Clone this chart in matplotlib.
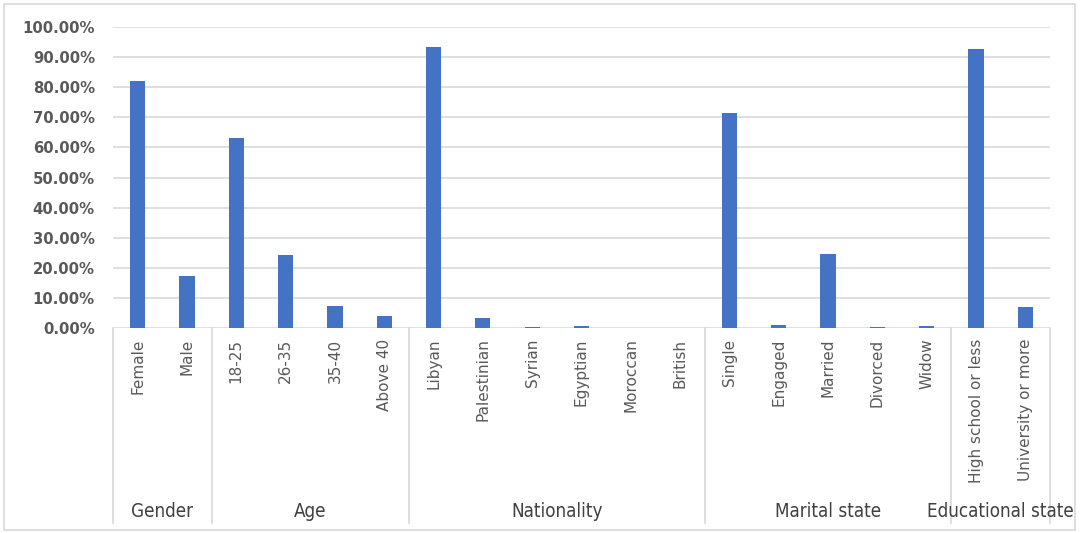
import numpy as np
import matplotlib.pyplot as plt
from matplotlib.patches import Rectangle
from matplotlib.ticker import PercentFormatter
import matplotlib.transforms as mtransforms

# categories and values (share of respondents)
groups = ["Gender", "Age", "Nationality", "Marital state", "Educational state"]
group_items = [
    ["Female", "Male"],
    ["18-25", "26-35", "35-40", "Above 40"],
    ["Libyan", "Palestinian", "Syrian", "Egyptian", "Moroccan", "British"],
    ["Single", "Engaged", "Married", "Divorced", "Widow"],
    ["High school or less", "University or more"],
]
gender_vals = [0.821, 0.174]
age_vals = [0.632, 0.244, 0.074, 0.041]
nationality_vals = [0.935, 0.034, 0.004, 0.008, 0.0, 0.0]
marital_vals = [0.713, 0.011, 0.247, 0.004, 0.008]
education_vals = [0.928, 0.069]

labels = [c for g in group_items for c in g]
values = gender_vals + age_vals + nationality_vals + marital_vals + education_vals
x = np.arange(len(labels))

grey = "#595959"
line_grey = "#d9d9d9"

fig = plt.figure(figsize=(10.8, 5.33), dpi=100)
ax = fig.add_axes([0.1046, 0.3846, 0.8676, 0.5647])

ax.bar(x, values, width=0.31, color="#4472C4", zorder=3)

ax.set_xlim(-0.5, len(labels) - 0.5)
ax.set_ylim(0, 1.0)
ax.set_yticks(np.arange(0, 1.01, 0.1))
ax.yaxis.set_major_formatter(PercentFormatter(1.0, decimals=2))
ax.grid(axis="y", color=line_grey, linewidth=1.2, zorder=0)
for s in ax.spines.values():
    s.set_visible(False)
ax.tick_params(axis="y", length=0, pad=13, labelsize=10.7, labelcolor=grey)
for t in ax.get_yticklabels():
    t.set_fontweight("bold")
ax.set_xticks([])

trans = mtransforms.blended_transform_factory(ax.transData, ax.transAxes)
bottom = -0.648

# category labels
for xi, lab in zip(x, labels):
    ax.text(xi, -0.035, lab, transform=trans, rotation=90, ha="center", va="top",
            fontsize=11, color=grey)

# group separators and group names
edges = [-0.5]
for g in group_items:
    edges.append(edges[-1] + len(g))
for e in edges:
    ax.plot([e, e], [0, bottom], transform=trans, color=line_grey, lw=1.2,
            clip_on=False)
for i, g in enumerate(groups):
    mid = (edges[i] + edges[i + 1]) / 2
    ax.text(mid, -0.61, g, transform=trans, ha="center", va="center",
            fontsize=13.5, color="#404040", fontstretch="condensed")

# chart border
fig.patches.append(Rectangle((4 / 1080, 3 / 533), 1071 / 1080, 526 / 533,
                             transform=fig.transFigure, fill=False,
                             edgecolor=line_grey, lw=1.2))

fig.savefig("out.png", dpi=100)
